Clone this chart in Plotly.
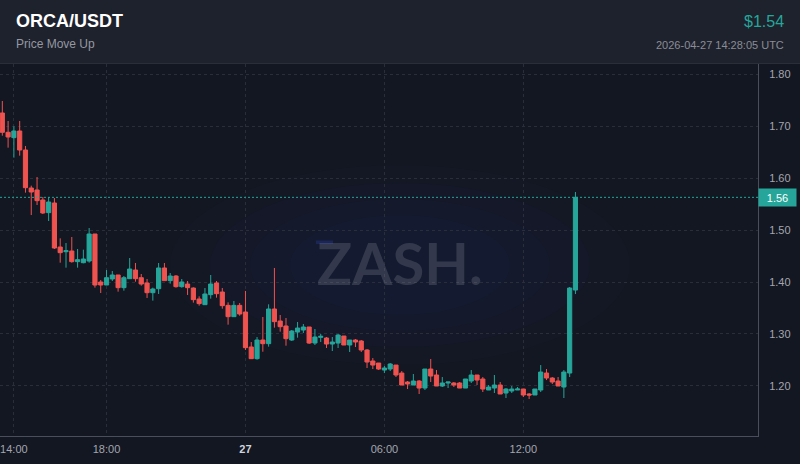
import pandas as pd
import plotly.graph_objects as go

# 15-minute candles, ORCA/USDT
start_time = "2026-04-26 13:30"
opens = [1.7256, 1.6884, 1.6781, 1.6909, 1.6543, 1.5811, 1.5773, 1.5580, 1.5336, 1.5522,
         1.4674, 1.4584, 1.4597, 1.4392, 1.4372, 1.4404, 1.4925, 1.4000, 1.3942, 1.4058,
         1.4135, 1.3891, 1.4064, 1.4231, 1.4083, 1.3981, 1.3794, 1.3871, 1.4270, 1.4026,
         1.4115, 1.3910, 1.3961, 1.3884, 1.3672, 1.3563, 1.3756, 1.3981, 1.3807, 1.3550,
         1.3332, 1.3550, 1.3422, 1.2748, 1.2523, 1.2882, 1.2812, 1.3480, 1.3248, 1.3152,
         1.2882, 1.3036, 1.3075, 1.3133, 1.2824, 1.2934, 1.2921, 1.2805, 1.2824, 1.2959,
         1.2786, 1.2882, 1.2863, 1.2690, 1.2478, 1.2439, 1.2304, 1.2323, 1.2400, 1.2246,
         1.2073, 1.2015, 1.2092, 1.1957, 1.2323, 1.2208, 1.1996, 1.2054, 1.2054, 1.2054,
         1.1957, 1.2092, 1.2208, 1.2131, 1.1919, 1.1957, 1.2015, 1.1861, 1.1900, 1.1919,
         1.1938, 1.1842, 1.1823, 1.1919, 1.2246, 1.2150, 1.2092, 1.1977, 1.2246, 1.3845]
highs = [1.7487, 1.7102, 1.7000, 1.7102, 1.6620, 1.5856, 1.6023, 1.5638, 1.5638, 1.5618,
         1.4841, 1.4751, 1.4867, 1.4636, 1.4623, 1.5040, 1.4925, 1.4038, 1.4231, 1.4212,
         1.4135, 1.4115, 1.4462, 1.4366, 1.4154, 1.4058, 1.3891, 1.4366, 1.4366, 1.4173,
         1.4135, 1.4058, 1.4019, 1.3897, 1.3724, 1.3884, 1.4135, 1.4019, 1.3884, 1.3608,
         1.3634, 1.3595, 1.3827, 1.2844, 1.2940, 1.3326, 1.3570, 1.4270, 1.3364, 1.3306,
         1.3075, 1.3229, 1.3190, 1.3133, 1.3094, 1.2998, 1.2940, 1.2940, 1.2998, 1.2959,
         1.2882, 1.2901, 1.2882, 1.2709, 1.2535, 1.2439, 1.2381, 1.2439, 1.2400, 1.2285,
         1.2092, 1.2227, 1.2111, 1.2323, 1.2516, 1.2304, 1.2169, 1.2073, 1.2073, 1.2073,
         1.2131, 1.2304, 1.2208, 1.2169, 1.2015, 1.2208, 1.2073, 1.1957, 1.1996, 1.1977,
         1.1938, 1.1861, 1.1938, 1.2400, 1.2323, 1.2169, 1.2169, 1.2304, 1.3903, 1.5734]
lows = [1.6819, 1.6588, 1.6396, 1.6434, 1.5721, 1.5290, 1.5483, 1.5310, 1.5175, 1.4636,
        1.4372, 1.4276, 1.4372, 1.4276, 1.4360, 1.4372, 1.3891, 1.3788, 1.3942, 1.4019,
        1.3814, 1.3833, 1.4064, 1.4006, 1.3929, 1.3692, 1.3641, 1.3769, 1.4026, 1.3968,
        1.3891, 1.3891, 1.3750, 1.3602, 1.3544, 1.3563, 1.3679, 1.3698, 1.3486, 1.3178,
        1.3332, 1.3351, 1.2690, 1.2523, 1.2503, 1.2657, 1.2754, 1.3120, 1.3043, 1.2773,
        1.2863, 1.2927, 1.3017, 1.2805, 1.2786, 1.2844, 1.2728, 1.2670, 1.2728, 1.2786,
        1.2651, 1.2747, 1.2651, 1.2343, 1.2323, 1.2304, 1.2246, 1.2285, 1.2169, 1.2015,
        1.1938, 1.2015, 1.1842, 1.1919, 1.2073, 1.1996, 1.1977, 1.1957, 1.1977, 1.1957,
        1.1957, 1.2054, 1.2015, 1.1880, 1.1919, 1.1861, 1.1842, 1.1765, 1.1861, 1.1919,
        1.1784, 1.1745, 1.1823, 1.1880, 1.2111, 1.2034, 1.1996, 1.1765, 1.2169, 1.3768]
closes = [1.6884, 1.6794, 1.6909, 1.6543, 1.5817, 1.5734, 1.5567, 1.5330, 1.5541, 1.4655,
          1.4565, 1.4603, 1.4392, 1.4430, 1.4443, 1.4925, 1.3942, 1.3942, 1.4083, 1.4135,
          1.3891, 1.4083, 1.4250, 1.4064, 1.3961, 1.3794, 1.3865, 1.4270, 1.4026, 1.4115,
          1.3910, 1.4000, 1.3891, 1.3660, 1.3583, 1.3769, 1.3961, 1.3775, 1.3544, 1.3332,
          1.3550, 1.3383, 1.2735, 1.2523, 1.2882, 1.2812, 1.3480, 1.3236, 1.3139, 1.2908,
          1.3056, 1.3113, 1.3133, 1.2824, 1.2940, 1.2953, 1.2805, 1.2844, 1.2978, 1.2786,
          1.2882, 1.2844, 1.2690, 1.2458, 1.2400, 1.2323, 1.2343, 1.2420, 1.2208, 1.2015,
          1.2034, 1.2092, 1.1957, 1.2323, 1.2188, 1.1996, 1.2054, 1.2073, 1.2015, 1.1957,
          1.2131, 1.2208, 1.2111, 1.1938, 1.1977, 1.2015, 1.1842, 1.1938, 1.1938, 1.1938,
          1.1823, 1.1823, 1.1938, 1.2265, 1.2150, 1.2073, 1.1996, 1.2265, 1.3884, 1.5631]

tick_times = ["2026-04-26 14:00", "2026-04-26 18:00", "2026-04-27 00:00",
              "2026-04-27 06:00", "2026-04-27 12:00"]
tick_labels = ["14:00", "18:00", "<b><span style='color:#d1d4dc'>27</span></b>", "06:00", "12:00"]
y_ticks = [1.2, 1.3, 1.4, 1.5, 1.6, 1.7, 1.8]

title_txt = "ORCA/USDT"
subtitle_txt = "Price Move Up"
price_txt = "$1.54"
stamp_txt = "2026-04-27 14:28:05 UTC"

UP = "#26a69a"
DOWN = "#ef5350"
BG = "#131722"
HEADER = "#1e222d"
GRID = "#2a2e3b"
AXIS = "#4a4e5c"
TXT = "#a3a6af"
FONT = "Liberation Sans, Arial, sans-serif"

times = pd.date_range(start_time, periods=len(closes), freq="15min")

# layout in pixels -> paper coords (plot area: x 0..758, y 64..436)
PW, PT, PB = 758, 64, 436
def px(x):
    return x / PW
def py(y):
    return (PB - y) / (PB - PT)

fig = go.Figure()

fig.add_trace(go.Candlestick(
    x=times, open=opens, high=highs, low=lows, close=closes,
    increasing=dict(line=dict(color=UP, width=1), fillcolor=UP),
    decreasing=dict(line=dict(color=DOWN, width=1), fillcolor=DOWN),
    whiskerwidth=0,
    showlegend=False,
))

shapes = []
# header band
shapes.append(dict(type="rect", xref="paper", yref="paper", x0=0, x1=px(800), y0=1, y1=py(0),
                   fillcolor=HEADER, line_width=0, layer="below"))
shapes.append(dict(type="line", xref="paper", yref="paper", x0=0, x1=px(800), y0=py(63.5), y1=py(63.5),
                   line=dict(color="#2a2e39", width=1)))
# soft glow behind the watermark
for rx, ry, a in [(230, 100, 0.04), (190, 82, 0.05), (150, 66, 0.06), (110, 50, 0.07)]:
    shapes.append(dict(type="circle", xref="paper", yref="paper",
                       x0=px(400 - rx), x1=px(400 + rx), y0=py(265 + ry), y1=py(265 - ry),
                       fillcolor=f"rgba(32,44,110,{a})", line_width=0, layer="below"))
shapes.append(dict(type="rect", xref="paper", yref="paper", x0=px(316), x1=px(333), y0=py(244), y1=py(240.5),
                   fillcolor="rgba(40,60,160,0.35)", line_width=0, layer="below"))
# last price line
shapes.append(dict(type="line", xref="paper", yref="y", x0=0, x1=1, y0=closes[-1], y1=closes[-1],
                   line=dict(color=UP, width=1, dash="2px,2px")))

annotations = [
    dict(text=f"<b>{title_txt}</b>", xref="paper", yref="paper", x=px(14), y=py(21),
         xanchor="left", yanchor="middle", showarrow=False, font=dict(size=18, color="#ffffff", family=FONT)),
    dict(text=subtitle_txt, xref="paper", yref="paper", x=px(14), y=py(44),
         xanchor="left", yanchor="middle", showarrow=False, font=dict(size=12, color="#9598a1", family=FONT)),
    dict(text=price_txt, xref="paper", yref="paper", x=px(786), y=py(21),
         xanchor="right", yanchor="middle", showarrow=False, font=dict(size=16, color=UP, family=FONT)),
    dict(text=stamp_txt, xref="paper", yref="paper", x=px(786), y=py(45),
         xanchor="right", yanchor="middle", showarrow=False, font=dict(size=11, color="#8a8d96", family=FONT)),
    dict(text="<b>ZASH.</b>", xref="paper", yref="paper", x=px(400), y=py(262),
         xanchor="center", yanchor="middle", showarrow=False,
         font=dict(size=58, color="rgba(150,155,170,0.24)", family="Lato, Inter, sans-serif")),
    dict(text=f"{closes[-1]:.2f}", xref="paper", yref="y", x=1, y=closes[-1],
         xanchor="left", yanchor="middle", showarrow=False, bgcolor=UP,
         width=33, height=13, borderpad=2, font=dict(size=11, color="#ffffff", family=FONT)),
]

fig.update_layout(
    width=800, height=464,
    margin=dict(l=0, r=42, t=64, b=28),
    paper_bgcolor=BG,
    plot_bgcolor=BG,
    boxgap=0.28,
    boxgroupgap=0,
    font=dict(family=FONT, size=11, color=TXT),
    showlegend=False,
    shapes=shapes,
    annotations=annotations,
    xaxis=dict(
        rangeslider=dict(visible=False),
        range=["2026-04-26 13:24", "2026-04-27 22:08"],
        tickmode="array", tickvals=tick_times, ticktext=tick_labels,
        showgrid=True, gridcolor=GRID, griddash="3px,3px", gridwidth=1,
        showline=True, linecolor=AXIS, linewidth=1,
        zeroline=False, ticks="", ticklabelstandoff=3, tickfont=dict(size=11, color=TXT),
    ),
    yaxis=dict(
        side="right",
        range=[1.1033, 1.8200],
        tickmode="array", tickvals=y_ticks, ticktext=[f"{v:.2f}" for v in y_ticks],
        showgrid=True, gridcolor=GRID, griddash="3px,3px", gridwidth=1,
        showline=True, linecolor=AXIS, linewidth=1,
        zeroline=False, ticks="", ticklabelstandoff=8, tickfont=dict(size=11, color=TXT),
    ),
)

fig.write_html("out.html", config={"displayModeBar": False},
               post_script="document.body.style.margin='0';")
